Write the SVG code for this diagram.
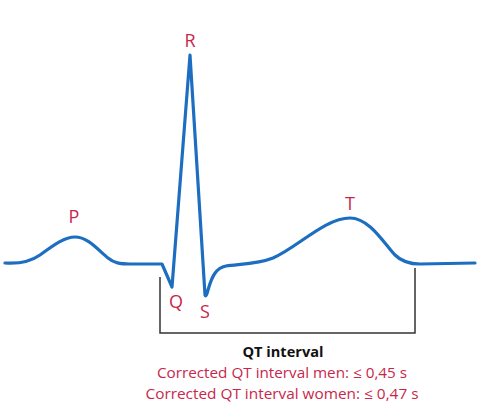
<svg xmlns="http://www.w3.org/2000/svg" width="482" height="420" viewBox="0 0 482 420">
<style>
.wave{fill:none;stroke:#1d6ec0;stroke-width:3.2;stroke-linejoin:round;stroke-linecap:round}
.br{fill:none;stroke:#333;stroke-width:1.5}
.lbl{font-family:"Open Sans","Liberation Sans",sans-serif;font-size:18px;fill:#c8274c;text-anchor:middle}
.qt{font-family:"Open Sans","Liberation Sans",sans-serif;font-size:14.5px;font-weight:bold;fill:#111;text-anchor:middle}
.note{font-family:"Open Sans","Liberation Sans",sans-serif;font-size:14.5px;fill:#c8274c;text-anchor:middle}
</style>
<rect width="482" height="420" fill="#fff"/>
<g id="connectors">
<path class="br" d="M160,277 L160,333 L415,333 L415,268"/>
</g>
<g id="ecg">
<path class="wave" d="M5,263 C20,264 30,262 40,255 C55,244 65,237 75,237 C88,237 98,250 108,258 C114,263 120,264 130,264 L162,264 L172,287 L190,55 L205,295 Q206,298 208,290 C212,276 216,268 226,266 C240,264 258,264 273,258 C298,247 325,218 350,218 C370,218 385,245 395,255 C402,262 410,264 420,264 L475,263"/>
</g>
<g id="label-P"><text class="lbl" x="74" y="223">P</text></g>
<g id="label-R"><text class="lbl" x="190" y="47">R</text></g>
<g id="label-Q"><text class="lbl" x="176" y="308">Q</text></g>
<g id="label-S"><text class="lbl" x="205" y="318">S</text></g>
<g id="label-T"><text class="lbl" x="350" y="210">T</text></g>
<g id="caption">
<text class="qt" x="283" y="357" textLength="81" lengthAdjust="spacingAndGlyphs">QT interval</text>
<text class="note" x="282" y="378" textLength="250" lengthAdjust="spacingAndGlyphs">Corrected QT interval men: ≤ 0,45 s</text>
<text class="note" x="282" y="399" textLength="273" lengthAdjust="spacingAndGlyphs">Corrected QT interval women: ≤ 0,47 s</text>
</g>
</svg>
